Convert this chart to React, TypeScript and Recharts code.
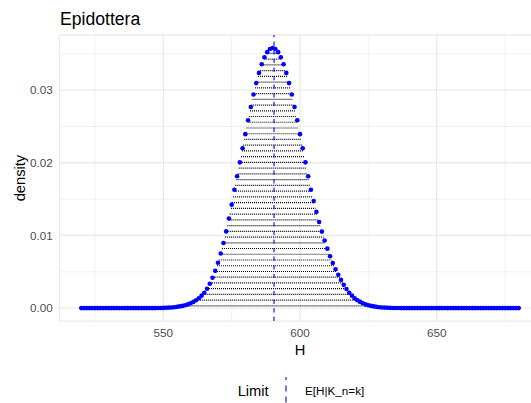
import { ComposedChart, Scatter, XAxis, YAxis, CartesianGrid, ReferenceLine, Label } from 'recharts'

// support of H and its density at each integer value
const hValues = [
  520, 521, 522, 523, 524, 525, 526, 527, 528, 529,
  530, 531, 532, 533, 534, 535, 536, 537, 538, 539,
  540, 541, 542, 543, 544, 545, 546, 547, 548, 549,
  550, 551, 552, 553, 554, 555, 556, 557, 558, 559,
  560, 561, 562, 563, 564, 565, 566, 567, 568, 569,
  570, 571, 572, 573, 574, 575, 576, 577, 578, 579,
  580, 581, 582, 583, 584, 585, 586, 587, 588, 589,
  590, 591, 592, 593, 594, 595, 596, 597, 598, 599,
  600, 601, 602, 603, 604, 605, 606, 607, 608, 609,
  610, 611, 612, 613, 614, 615, 616, 617, 618, 619,
  620, 621, 622, 623, 624, 625, 626, 627, 628, 629,
  630, 631, 632, 633, 634, 635, 636, 637, 638, 639,
  640, 641, 642, 643, 644, 645, 646, 647, 648, 649,
  650, 651, 652, 653, 654, 655, 656, 657, 658, 659,
  660, 661, 662, 663, 664, 665, 666, 667, 668, 669,
  670, 671, 672, 673, 674, 675, 676, 677, 678, 679,
  680,
]

const densityValues = [
  0, 0, 0, 0, 0, 0, 0, 0, 0, 0,
  0, 0, 0, 0, 0, 0, 0, 0, 0, 0,
  0, 0, 0, 0, 0, 0, 0, 0, 0.00001, 0.00002,
  0.00003, 0.00005, 0.00007, 0.00009, 0.00012, 0.00017, 0.00023, 0.0003, 0.00039, 0.00051,
  0.00066, 0.00085, 0.00108, 0.00136, 0.00171, 0.00212, 0.00267, 0.00336, 0.00417, 0.00513,
  0.00624, 0.00752, 0.00896, 0.01056, 0.01233, 0.01424, 0.01628, 0.01814, 0.02006, 0.022,
  0.02394, 0.02585, 0.02767, 0.02939, 0.03097, 0.03237, 0.03357, 0.03453, 0.03523, 0.03566,
  0.0358, 0.03566, 0.03523, 0.03453, 0.03357, 0.03237, 0.03097, 0.02939, 0.02767, 0.02585,
  0.02394, 0.022, 0.02006, 0.01814, 0.01628, 0.01473, 0.01325, 0.01185, 0.01053, 0.00931,
  0.00818, 0.00714, 0.0062, 0.00535, 0.00459, 0.00388, 0.0032, 0.00262, 0.00212, 0.00171,
  0.00136, 0.00108, 0.00085, 0.00066, 0.00051, 0.00039, 0.0003, 0.00023, 0.00017, 0.00012,
  0.00009, 0.00007, 0.00005, 0.00003, 0.00002, 0.00001, 0.00001, 0, 0, 0,
  0, 0, 0, 0, 0, 0, 0, 0, 0, 0,
  0, 0, 0, 0, 0, 0, 0, 0, 0, 0,
  0, 0, 0, 0, 0, 0, 0, 0, 0, 0,
  0, 0, 0, 0, 0, 0, 0, 0, 0, 0,
  0,
]

// E[H|K_n=k]
const expectedH = 590.5

// heights of the dotted cuts across the curve
const cutLevels = [
  0.0003, 0.00109, 0.00188, 0.00267, 0.00346, 0.00425, 0.00504, 0.00583, 0.00662, 0.00741,
  0.0082, 0.00899, 0.00978, 0.01057, 0.01136, 0.01215, 0.01294, 0.01373, 0.01452, 0.01531,
  0.0161, 0.01689, 0.01768, 0.01847, 0.01926, 0.02005, 0.02084, 0.02163, 0.02242, 0.02321,
  0.024, 0.02479, 0.02558, 0.02637, 0.02716, 0.02795, 0.02874, 0.02953, 0.03032, 0.03111,
  0.0319, 0.03269, 0.03348, 0.03427, 0.03506,
]

const xTicks = [550, 600, 650]
const xMinorTicks = [525, 575, 625, 675]
const yTicks = [0, 0.01, 0.02, 0.03]
const yMinorTicks = [0.005, 0.015, 0.025, 0.035]

const BLUE = '#0000FF'
const GRID = '#EBEBEB'

type Point = { h: number; density: number }

const points: Point[] = hValues.map((h, i) => ({ h, density: densityValues[i] }))

// walk in from one end until the curve first reaches `level`, then interpolate
function crossing(level: number, fromLeft: boolean): number | null {
  const pts = fromLeft ? points : [...points].reverse()
  for (let i = 1; i < pts.length; i++) {
    const a = pts[i - 1]
    const b = pts[i]
    if (a.density < level && b.density >= level) {
      const t = (level - a.density) / (b.density - a.density)
      return a.h + t * (b.h - a.h)
    }
  }
  return null
}

const cuts = cutLevels
  .map((level) => ({ level, x1: crossing(level, true), x2: crossing(level, false) }))
  .filter((c) => c.x1 !== null && c.x2 !== null) as { level: number; x1: number; x2: number }[]

const Dot = (props: { cx?: number; cy?: number }) =>
  props.cx == null || props.cy == null ? null : <circle cx={props.cx} cy={props.cy} r={2.3} fill={BLUE} />

export default function App() {
  return (
    <div
      style={{
        position: 'absolute',
        left: 0,
        top: 0,
        width: 531,
        height: 403,
        overflow: 'hidden',
        background: '#fff',
        fontFamily: '"Liberation Sans", Arial, sans-serif',
      }}
    >
      <div style={{ position: 'absolute', left: 60, top: 10.6, fontSize: 17.6, lineHeight: 1, color: '#000' }}>
        Epidottera
      </div>
      <ComposedChart
        width={548}
        height={403}
        data={points}
        margin={{ top: 35, right: 7.4, bottom: 61.9, left: 0 }}
      >
        <CartesianGrid stroke={GRID} strokeWidth={1.4} />
        {xMinorTicks.map((x) => (
          <ReferenceLine key={`mx${x}`} x={x} stroke={GRID} strokeWidth={0.7} />
        ))}
        {yMinorTicks.map((y) => (
          <ReferenceLine key={`my${y}`} y={y} stroke={GRID} strokeWidth={0.7} />
        ))}
        <XAxis
          dataKey="h"
          type="number"
          domain={[512, 688]}
          allowDataOverflow
          ticks={xTicks}
          axisLine={false}
          tickLine={false}
          tickSize={0}
          tickMargin={7.4}
          height={20}
          tick={{ fill: '#4D4D4D', fontSize: 11.7 }}
        >
          <Label
            content={({ viewBox }: any) => (
              <text x={viewBox.x + viewBox.width / 2} y={354.5} textAnchor="middle" fontSize={14.7} fill="#000">
                H
              </text>
            )}
          />
        </XAxis>
        <YAxis
          type="number"
          domain={[-0.00179, 0.03759]}
          allowDataOverflow
          ticks={yTicks}
          tickFormatter={(v: number) => v.toFixed(2)}
          axisLine={false}
          tickLine={false}
          tickSize={0}
          tickMargin={6.7}
          width={59.4}
          tick={{ fill: '#4D4D4D', fontSize: 11.7 }}
        >
          <Label
            content={({ viewBox }: any) => {
              const cy = viewBox.y + viewBox.height / 2
              return (
                <text
                  x={25}
                  y={cy}
                  transform={`rotate(-90, 25, ${cy})`}
                  textAnchor="middle"
                  fontSize={14.7}
                  fill="#000"
                >
                  density
                </text>
              )
            }}
          />
        </YAxis>
        {cuts.map((c) => (
          <ReferenceLine
            key={`cut${c.level}`}
            segment={[
              { x: c.x1, y: c.level },
              { x: c.x2, y: c.level },
            ]}
            stroke="#000"
            strokeWidth={1.2}
            strokeDasharray="1 1"
          />
        ))}
        <Scatter dataKey="density" shape={<Dot />} isAnimationActive={false} />
        <ReferenceLine x={expectedH} stroke={BLUE} strokeWidth={1.1} strokeDasharray="4.3 4.3" />
      </ComposedChart>
      {/* legend for the dashed limit line */}
      <div style={{ position: 'absolute', left: 237.7, top: 383.6, fontSize: 14.7, lineHeight: 1, color: '#000' }}>
        Limit
      </div>
      <svg style={{ position: 'absolute', left: 284, top: 377 }} width={4} height={26}>
        <line x1={2} y1={0} x2={2} y2={26} stroke={BLUE} strokeWidth={1.1} strokeDasharray="3 5.5 6 5 6" />
      </svg>
      <div style={{ position: 'absolute', left: 305, top: 385.1, fontSize: 11.7, lineHeight: 1, color: '#000' }}>
        E[H|K_n=k]
      </div>
    </div>
  )
}
